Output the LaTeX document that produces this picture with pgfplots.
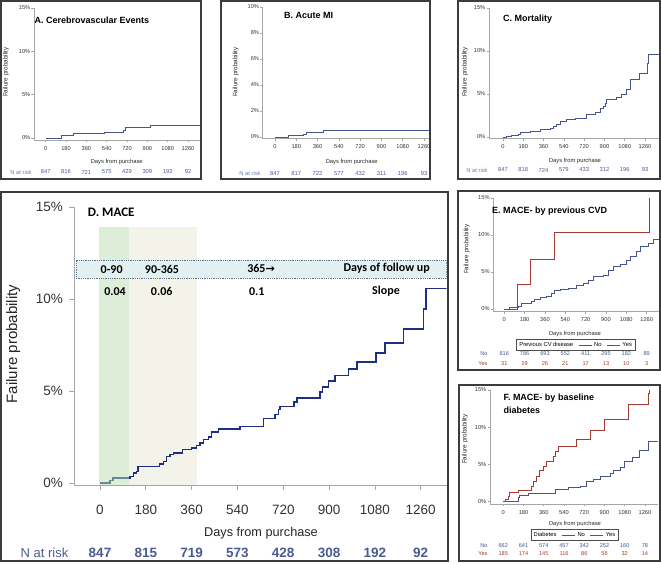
\documentclass[border=0pt]{standalone}
\usepackage{fontspec}
\setmainfont{Liberation Sans}
\newfontfamily\calibri{Carlito}
\newfontfamily\dejavu{DejaVu Sans}
\usepackage{pgfplots}
\pgfplotsset{compat=1.18}

\definecolor{kmblue}{HTML}{46558F}
\definecolor{kmred}{HTML}{A23A33}
\definecolor{navy}{HTML}{1F2F7F}
\definecolor{axgray}{HTML}{A6A6A6}
\definecolor{framegray}{HTML}{3C3C3C}
\definecolor{riskblue}{HTML}{4A5A95}
\definecolor{shgreen}{HTML}{B9DDB1}
\definecolor{shbeige}{HTML}{F3F3EA}
\definecolor{boxcyan}{HTML}{E2F0F1}
\definecolor{boxline}{HTML}{5A7285}

\newcommand{\fs}[1]{\fontsize{#1}{#1}\selectfont}

\pgfplotsset{
  km/.style={
    scale only axis, anchor=south west,
    axis lines=left,
    axis line style={draw=axgray, line width=0.6pt, -},
    tick style={draw=axgray, line width=0.6pt},
    tick align=outside, major tick length=2.5pt,
    xtick={0,180,...,1260},
    ytick={0,5,10,15},
    yticklabel={\pgfmathprintnumber{\tick}\%},
    tick label style={font=\fs{5.7}, text=black!80},
    xticklabel style={inner sep=1pt, yshift=-2.5pt},
    yticklabel style={inner sep=1pt},
    /pgf/number format/assume math mode=true,
    /pgf/number format/1000 sep={},
    legend image code/.code={\draw[#1] (0pt,0pt) -- (13pt,0pt);},
  },
  kmline/.style={const plot, line width=0.9pt, no marks},
  kmleg/.style={legend columns=3, legend cell align=left,
    legend style={font=\fs{5.8}, draw=black!70, line width=0.4pt,
      inner sep=0.8pt, /tikz/every even column/.append style={column sep=3pt}}},
}

\begin{document}
\begin{tikzpicture}
\useasboundingbox (0,0) rectangle (661pt,564pt);

% A. Cerebrovascular events
\begin{axis}[km, at={(34pt,424pt)}, width=166pt, height=132pt,
  xmin=-103.6, xmax=1366, ymin=-0.23, ymax=15]
\addplot[kmline, kmblue] coordinates {(0,0) (141,0.27) (244,0.5) (303,0.58)
  (524,0.66) (686,0.9) (710,1.16) (927,1.43) (1366,1.43)};
\end{axis}

% B. Acute MI
\begin{axis}[km, at={(262.7pt,425.3pt)}, width=166.3pt, height=131.7pt,
  xmin=-104, xmax=1302, ymin=-0.13, ymax=10, ytick={0,2,...,10}]
\addplot[kmline, kmblue] coordinates {(0,0) (113,0.1) (240,0.18) (262,0.33)
  (409,0.49) (1302,0.49)};
\end{axis}

% C. Mortality
\begin{axis}[km, at={(489pt,425.3pt)}, width=171pt, height=130.7pt,
  xmin=-124, xmax=1393, ymin=-0.2, ymax=15]
\addplot[kmline, kmblue] coordinates {(0,0) (33,0.08) (77,0.16) (136,0.31)
  (151,0.5) (240,0.66) (328,0.82) (417,1.0) (447,1.28) (477,1.5) (506,1.75)
  (565,1.98) (639,2.18) (742,2.57) (816,2.84) (868,3.3) (890,3.6) (905,3.93)
  (920,4.31) (1009,4.62) (1053,4.9) (1097,5.56) (1127,6.65) (1210,7.35)
  (1281,8.59) (1290,9.56) (1393,9.56)};
\end{axis}

% D. MACE
\begin{axis}[km, at={(74pt,79pt)}, width=372.7pt, height=278pt,
  xmin=-102, xmax=1362, ymin=-0.11, ymax=15,
  major tick length=5pt,
  tick label style={font=\fs{13.5}, text=black!80},
  xticklabel style={inner sep=2pt, yshift=-10pt},
  yticklabel style={inner sep=2pt, xshift=-4pt}]
\fill[shbeige] (axis cs:114,-0.11) rectangle (axis cs:380,13.93);
\addplot[const plot, line width=1.5pt, no marks, navy] coordinates {
  (0,0) (39,0.13) (52,0.27) (118,0.36) (131,0.54) (144,0.63) (150,0.9)
  (233,1.03) (249,1.18) (262,1.45) (275,1.54) (288,1.63) (325,1.81)
  (360,1.9) (380,2.03) (393,2.17) (406,2.36) (426,2.5) (439,2.77)
  (465,2.93) (550,3.08) (642,3.5) (688,3.71) (701,3.99) (708,4.17)
  (763,4.4) (773,4.62) (865,4.95) (875,5.22) (897,5.53) (924,5.83)
  (976,6.2) (1009,6.58) (1085,7.07) (1120,7.6) (1192,8.37) (1271,9.46)
  (1281,10.56) (1362,10.56)};
\fill[shgreen, opacity=0.5] (axis cs:-3.9,-0.11) rectangle (axis cs:114,13.93);
\filldraw[fill=boxcyan, draw=boxline, densely dotted, line width=0.8pt]
  (axis cs:-94,11.12) rectangle (axis cs:1362,12.12);
\end{axis}

% E. MACE by previous CVD
\begin{axis}[km, at={(493.3pt,252.3pt)}, width=166.7pt, height=113.7pt,
  xmin=-97, xmax=1378, ymin=-0.36, ymax=15, kmleg,
  legend style={at={(axis description cs:0.494,-0.293)}, anchor=center}]
\addlegendimage{empty legend}
\addlegendentry{Previous CV disease}
\addplot[kmline, kmblue] coordinates {(0,0) (50,0.23) (124,0.41) (153,0.77)
  (242,1.0) (271,1.31) (316,1.58) (375,1.76) (419,2.12) (448,2.57)
  (493,2.66) (567,2.79) (640,3.15) (699,3.47) (744,3.92) (788,4.37)
  (877,4.6) (921,5.27) (966,5.72) (1025,6.08) (1084,6.62) (1113,7.07)
  (1172,7.75) (1202,8.42) (1275,8.87) (1320,9.41) (1378,9.41)};
\addlegendentry{No}
\addplot[kmline, kmred] coordinates {(0,0) (118,3.38) (233,6.7) (440,10.36)
  (1284,15)};
\addlegendentry{Yes}
\end{axis}

% F. MACE by baseline diabetes
\begin{axis}[km, at={(490pt,60pt)}, width=168pt, height=114pt,
  xmin=-118, xmax=1376, ymin=-0.3, ymax=15, kmleg,
  legend style={at={(axis description cs:0.503,-0.272)}, anchor=center}]
\addlegendimage{empty legend}
\addlegendentry{Diabetes}
\addplot[kmline, kmblue] coordinates {(0,0) (133,0.58) (148,0.9) (222,1.12)
  (460,1.66) (578,1.88) (682,2.01) (741,2.69) (800,3.0) (860,3.36)
  (949,3.81) (978,4.25) (1038,4.61) (1082,5.37) (1150,5.9) (1210,6.85)
  (1290,8.15) (1376,8.15)};
\addlegendentry{No}
\addplot[kmline, kmred] coordinates {(0,0) (15,0.3) (44,0.76) (59,1.21)
  (133,1.57) (252,2.01) (267,2.69) (297,3.36) (326,4.16) (356,4.79)
  (385,5.37) (445,6.05) (460,6.72) (489,7.39) (652,8.37) (771,9.54)
  (904,11.06) (1112,13.1) (1290,14.55) (1299,15)};
\addlegendentry{Yes}
\end{axis}

% frames, titles, labels and risk tables (pixel coordinates, y downwards)
\begin{scope}[x=1pt, y=-1pt, yshift=564pt]
\draw[framegray, line width=1.1pt] (1,1) rectangle (201,179);
\draw[framegray, line width=1.1pt] (221,1) rectangle (430,179);
\draw[framegray, line width=1.1pt] (458,1) rectangle (660,179);
\draw[framegray, line width=1.3pt] (1,192) rectangle (448,561);
\draw[framegray, line width=1.1pt] (458,191) rectangle (660,370);
\draw[framegray, line width=1.1pt] (459,385) rectangle (660,561);

\node[anchor=west, font=\bfseries\fs{9}, inner sep=0] at (34.5,20) {A. Cerebrovascular Events};
\node[anchor=west, font=\bfseries\fs{9}, inner sep=0] at (284,15.7) {B. Acute MI};
\node[anchor=west, font=\bfseries\fs{9}, inner sep=0] at (503,19) {C. Mortality};
\node[anchor=west, font=\calibri\bfseries\fs{13}, inner sep=0] at (87.7,212.7) {D. MACE};
\node[anchor=west, font=\bfseries\fs{9}, inner sep=0] at (492,211) {E. MACE- by previous CVD};
\node[anchor=west, font=\bfseries\fs{9}, inner sep=0] at (503.3,398.3) {F. MACE- by baseline};
\node[anchor=west, font=\bfseries\fs{9}, inner sep=0] at (503.3,410) {diabetes};

\foreach \x/\y in {6/72, 235.7/72, 465/72, 466.7/249, 465/439}
  \node[rotate=90, font=\fs{6.3}, text=black!85] at (\x,\y) {Failure probability};
\node[rotate=90, font=\fs{15}, text=black!85] at (13.3,344) {Failure probability};

\foreach \x/\y in {116.7/162, 351.7/162.3, 575/161, 575/334, 575/524}
  \node[font=\fs{5.8}, text=black!85] at (\x,\y) {Days from purchase};
\node[font=\fs{12.7}, text=black!85] at (261,533) {Days from purchase};

% slope annotations in panel D
\begin{scope}[font=\calibri\bfseries\fs{12}]
\node at (111.7,269.3) {0-90};
\node at (162,269) {90-365};
\node at (261,268) {365{\dejavu\fs{11}→}};
\node at (386.7,268) {Days of follow up};
\node at (115,291.7) {0.04};
\node at (161.7,291.7) {0.06};
\node at (256.7,291.7) {0.1};
\node at (386,291.7) {Slope};
\end{scope}

% numbers at risk
\node[font=\fs{5.8}, text=riskblue!80] at (21,172) {N at risk};
\node[font=\fs{5.8}, text=riskblue!80] at (250,173.3) {N at risk};
\node[font=\fs{5.8}, text=riskblue!80] at (477,170) {N at risk};
\node[font=\fs{13}, text=riskblue] at (44.5,553) {N at risk};
\foreach \v [count=\i from 0] in {847,816,721,575,429,309,192,92}
  \node[font=\fs{5.8}, text=riskblue] at ({45.7+20.33*\i},172) {\v};
\foreach \v [count=\i from 0] in {847,817,722,577,432,311,196,93}
  \node[font=\fs{5.8}, text=riskblue] at ({275+21.29*\i},173.3) {\v};
\foreach \v [count=\i from 0] in {847,818,724,579,433,312,196,93}
  \node[font=\fs{5.8}, text=riskblue] at ({503+20.29*\i},170) {\v};
\foreach \v [count=\i from 0] in {847,815,719,573,428,308,192,92}
  \node[font=\bfseries\fs{13.5}, text=riskblue] at ({100+45.81*\i},553) {\v};

\node[anchor=east, font=\fs{5.6}, text=kmblue] at (491,353.3) {No};
\node[anchor=east, font=\fs{5.6}, text=kmred] at (491,363.3) {Yes};
\foreach \v [count=\i from 0] in {816,786,693,552,411,295,182,89}
  \node[font=\fs{5.6}, text=kmblue] at ({504.3+20.34*\i},353.3) {\v};
\foreach \v [count=\i from 0] in {31,29,26,21,17,13,10,3}
  \node[font=\fs{5.6}, text=kmred] at ({504.3+20.34*\i},363.3) {\v};

\node[anchor=east, font=\fs{5.6}, text=kmblue] at (491,545.7) {No};
\node[anchor=east, font=\fs{5.6}, text=kmred] at (491,554) {Yes};
\foreach \v [count=\i from 0] in {662,641,574,457,342,252,160,78}
  \node[font=\fs{5.6}, text=kmblue] at ({503.3+20.24*\i},545.7) {\v};
\foreach \v [count=\i from 0] in {185,174,145,116,86,56,32,14}
  \node[font=\fs{5.6}, text=kmred] at ({503.3+20.24*\i},554) {\v};
\end{scope}
\end{tikzpicture}
\end{document}
